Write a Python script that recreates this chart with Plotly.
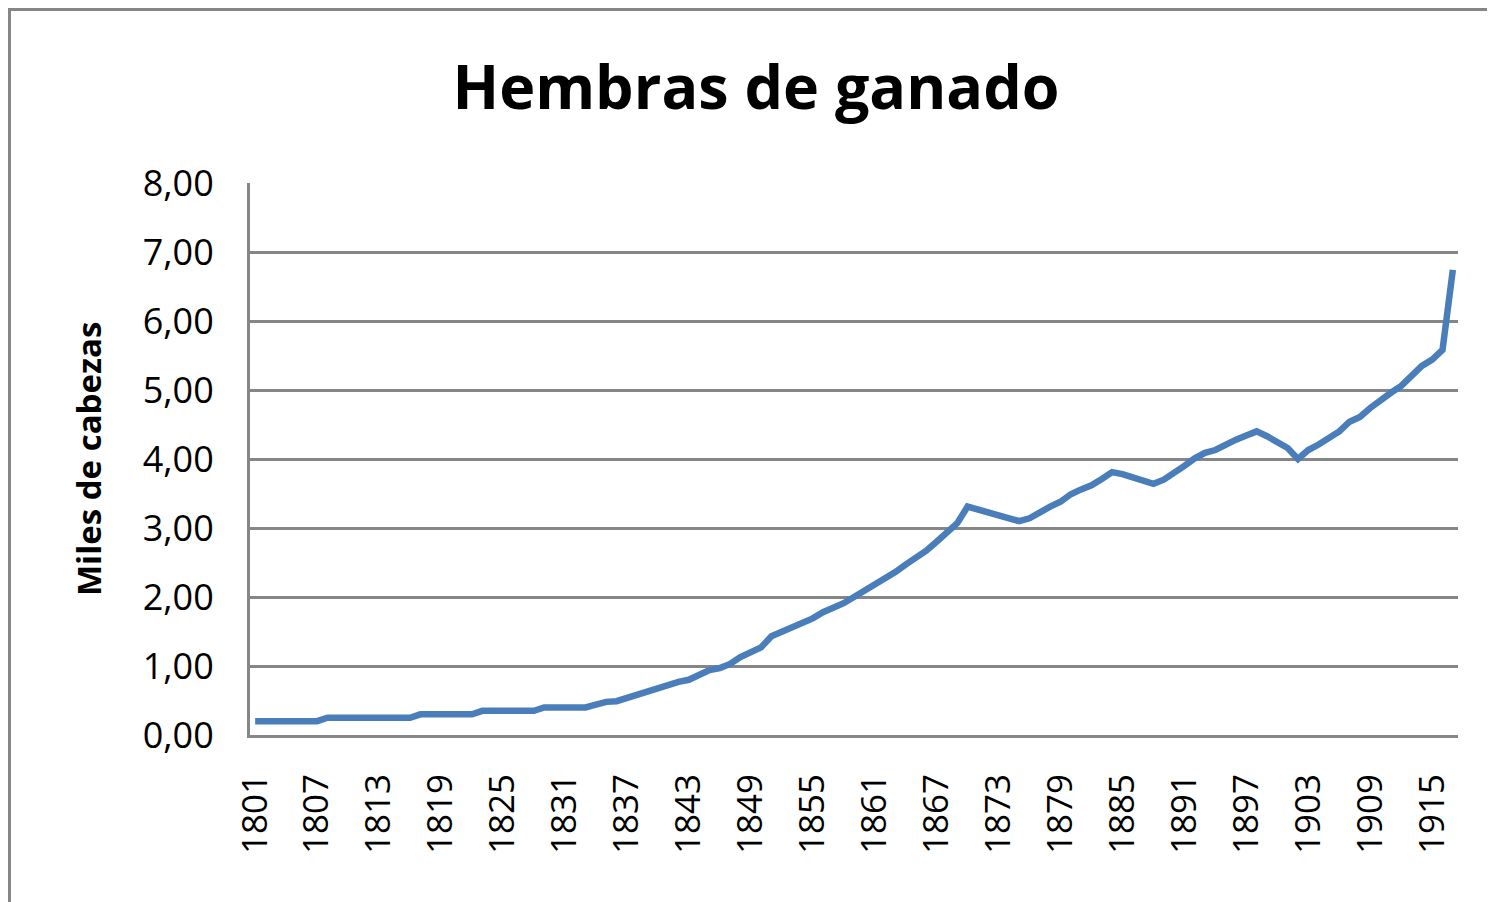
import plotly.graph_objects as go

years = [str(y) for y in range(1801, 1918)]
values = [
    0.20, 0.20, 0.20, 0.20, 0.20, 0.20, 0.20,              # 1801-1807
    0.25, 0.25, 0.25, 0.25, 0.25, 0.25, 0.25, 0.25, 0.25,  # 1808-1816
    0.30, 0.30, 0.30, 0.30, 0.30, 0.30,                    # 1817-1822
    0.35, 0.35, 0.35, 0.35, 0.35, 0.35,                    # 1823-1828
    0.40, 0.40, 0.40, 0.40, 0.40,                          # 1829-1833
    0.44, 0.48, 0.49,                                      # 1834-1836
    0.54, 0.59, 0.63, 0.67, 0.72, 0.77, 0.80, 0.86, 0.94, 0.97,  # 1837-1846
    1.03, 1.13, 1.21, 1.27, 1.43, 1.49, 1.55, 1.62, 1.69, 1.78,  # 1847-1856
    1.84, 1.91, 2.00, 2.09, 2.17, 2.26, 2.36, 2.47, 2.57, 2.67,  # 1857-1866
    2.80, 2.93, 3.07, 3.31, 3.27, 3.23, 3.19, 3.14, 3.10, 3.14,  # 1867-1876
    3.23, 3.31, 3.38, 3.49, 3.56, 3.62, 3.71, 3.81, 3.78, 3.74,  # 1877-1886
    3.69, 3.64, 3.70, 3.79, 3.90, 4.01, 4.09, 4.13, 4.21, 4.28,  # 1887-1896
    4.34, 4.40, 4.33, 4.25, 4.16, 4.00, 4.13, 4.21, 4.30, 4.40,  # 1897-1906
    4.54, 4.61, 4.74, 4.86, 4.96, 5.06, 5.19, 5.35, 5.44, 5.58,  # 1907-1916
    6.74,                                                  # 1917
]
tick_labels = [str(y) for y in range(1801, 1918, 6)]
y_ticks = [0, 1, 2, 3, 4, 5, 6, 7, 8]

# page body has an 8px margin; positions below are in figure pixels
W, H = 1495, 902
L, T = 242, 175
PR, PB = 1450, 727          # plot right / bottom edges
R, B = W - PR, H - PB
pw, ph = PR - L, PB - T

def px(x):
    return (x - L) / pw

def py(y):
    return (PB - y) / ph

fig = go.Figure()
fig.add_trace(go.Scatter(
    x=years, y=values, mode="lines",
    line=dict(color="#4A7EBB", width=6.5),
    showlegend=False, hoverinfo="x+y",
))

fig.update_layout(
    width=W, height=H,
    margin=dict(l=L, r=R, t=T, b=B),
    paper_bgcolor="white", plot_bgcolor="white",
    separators=",.",
    font=dict(family="Open Sans", color="black"),
    title=dict(
        text="<b>Hembras de ganado</b>",
        font=dict(family="Open Sans", size=61, color="black"),
        x=748 / W, xanchor="center",
        y=1 - 80 / H, yanchor="middle",
    ),
    xaxis=dict(
        type="category",
        tickmode="array", tickvals=tick_labels, ticktext=tick_labels,
        tickangle=-90,
        tickfont=dict(size=35, family="Open Sans"),
        ticklabelstandoff=22,
        showgrid=False,
        showline=True, linecolor="#868686", linewidth=3,
        ticks="", ticklen=0,
        range=[-0.5, len(years) - 0.5],
    ),
    yaxis=dict(
        range=[0, 8],
        tickvals=y_ticks,
        tickformat=".2f",
        tickfont=dict(size=36, family="Open Sans"),
        ticklabelstandoff=26,
        showgrid=True, gridcolor="#868686", gridwidth=2.5,
        showline=True, linecolor="#868686", linewidth=3,
        zeroline=False,
        ticks="", ticklen=0,
    ),
    annotations=[dict(
        text="<b>Miles de cabezas</b>", textangle=-90,
        font=dict(size=33, family="Open Sans", color="black"),
        xref="paper", yref="paper",
        x=px(80), y=0.5, xanchor="center", yanchor="middle",
        showarrow=False,
    )],
    shapes=[dict(
        type="rect", xref="paper", yref="paper",
        x0=px(1.5), x1=px(1520), y0=py(1.5), y1=py(930),
        line=dict(color="#868686", width=3), fillcolor="rgba(0,0,0,0)",
        layer="below",
    )],
)

fig.write_html("out.html")
